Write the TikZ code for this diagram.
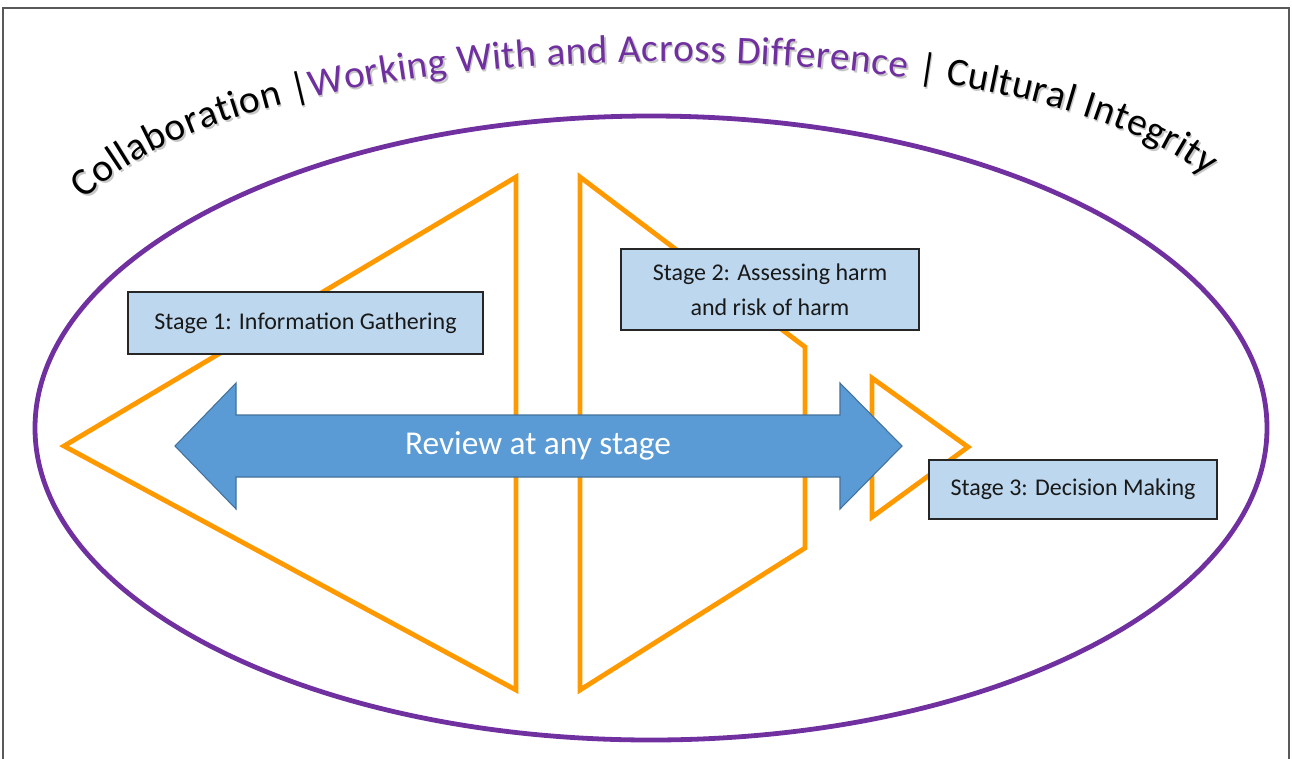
\documentclass[tikz,border=0pt]{standalone}
\usepackage{fontspec}
\setmainfont{Carlito}
\usetikzlibrary{positioning,decorations.text}
\definecolor{rimpurple}{RGB}{112,48,160}
\definecolor{stageorange}{RGB}{255,153,0}
\definecolor{reviewblue}{RGB}{91,155,213}
\definecolor{reviewedge}{RGB}{65,113,156}
\definecolor{stagefill}{RGB}{189,215,238}

\begin{document}
\begin{tikzpicture}[
  x=0.75pt, y=-0.75pt,
  frame/.style={draw=black!65, line width=0.9pt},
  rim/.style={draw=rimpurple, line width=3.6pt},
  wedge/.style={draw=stageorange, line width=3.6pt, line join=miter},
  review/.style={fill=reviewblue, draw=reviewedge, line width=0.8pt},
  stagebox/.style={draw=black!85, line width=1.5pt, fill=stagefill, align=center,
                   inner sep=2pt, text=black!90, font=\fontsize{18}{26}\selectfont},
  banner/.style={decorate, decoration={text along path, text align={fit to path},
                 text format delimiters={(}{)}, #1}},
]
\useasboundingbox (0,0) rectangle (1292,758);

% ---- outer frame, open at the bottom ----
\draw[frame] (3,770) -- (3,8) -- (1289,8) -- (1289,770);

% ---- the ring ----
\draw[rim] (651,428) ellipse [x radius=616, y radius=312];

% ---- stage outlines ----
\draw[wedge] (64,446) -- (516,177) -- (516,690) -- cycle;
\draw[wedge] (580,177) -- (805,347) -- (805,548) -- (580,690) -- cycle;
\draw[wedge] (872,378) -- (968,447) -- (872,517) -- cycle;

% ---- two-way review arrow ----
\draw[review] (175,446) -- (236,383) -- (236,415) -- (840,415) -- (840,383)
  -- (902,446) -- (840,509) -- (840,477) -- (236,477) -- (236,509) -- cycle;
\node[text=white, font=\fontsize{25}{30}\selectfont] (review) at (538,446) {Review at any stage};

% ---- stage labels ----
\node[stagebox, minimum width=266pt, minimum height=46.5pt] (gather) at (305.5,323) {Stage 1: Information Gathering};
\node[stagebox, minimum width=223.5pt, minimum height=61pt] (assess) at (770,289.5) {Stage 2: Assessing harm\\and risk of harm};
\node[stagebox, minimum width=216pt, minimum height=44pt] (decide) at (1073,489.5) {Stage 3: Decision Making};

% ---- arched banner with a soft drop shadow ----
\path[banner={text color=black!22,
      text={(\fontsize{29.5}{32}\selectfont)Collaboration |Working With and Across Difference | Cultural Integrity}},
      shift={(1.5,2)}]
  (85,200) .. controls (260,20) and (1010,20) .. (1205,175);
\path[banner={text color=black,
      text={(\fontsize{29.5}{32}\selectfont)Collaboration |(+\color{rimpurple})Working With and Across Difference (+\color{black})| Cultural Integrity}}]
  (85,200) .. controls (260,20) and (1010,20) .. (1205,175);

\end{tikzpicture}
\end{document}
